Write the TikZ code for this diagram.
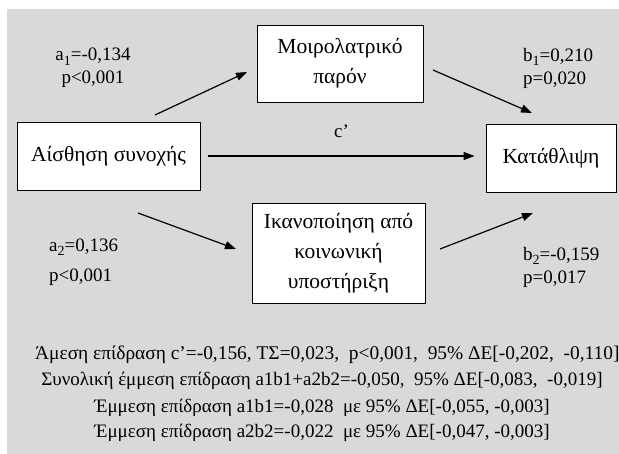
\documentclass[tikz,border=0pt]{standalone}
\usepackage{fontspec}
\setmainfont{Liberation Serif}
\usetikzlibrary{arrows.meta}
\definecolor{bggray}{RGB}{217,217,217}
\tikzstyle{every node}=[font=\fontsize{21.5}{30}\selectfont]
\tikzset{box/.style={draw, fill=white, line width=0.9pt, align=center, inner sep=0pt},
	effect/.style={-{Triangle[length=11pt,width=8pt]}, line width=1.2pt},
	coef/.style={align=left, inner sep=0pt, font=\fontsize{19}{23}\selectfont},
	summary/.style={inner sep=0pt, font=\fontsize{19}{22}\selectfont}}
\newcommand{\sub}[1]{\raisebox{-0.5ex}{\fontsize{14}{14}\selectfont #1}}

\begin{document}
\begin{tikzpicture}[x=1pt,y=-1pt]
	\useasboundingbox (0,0) rectangle (619,454);
	\fill[bggray] (7,9) rectangle (619,454);
	
	% boxes
	\node[box, minimum width=183pt, minimum height=68pt] (cohesion) at (108.5,156) {Αίσθηση συνοχής};
	\node[box, minimum width=166pt, minimum height=77pt] (fatalism) at (340,63.5) {Μοιρολατρικό\\παρόν};
	\node[box, minimum width=173pt, minimum height=100pt] (support) at (338.5,253) {Ικανοποίηση από\\κοινωνική\\υποστήριξη};
	\node[box, minimum width=130pt, minimum height=68pt] (depression) at (551,158) {Κατάθλιψη};
	
	% free ends of the paths
	\coordinate (a1s) at (155,115);
	\coordinate (a1e) at (247,72);
	\coordinate (b1s) at (433,70);
	\coordinate (b1e) at (532,113);
	\coordinate (a2s) at (138,213);
	\coordinate (a2e) at (236,249);
	\coordinate (b2s) at (440,249);
	\coordinate (b2e) at (533,213);
	
	% paths
	\draw[effect] (a1s) -- (a1e);
	\draw[effect] (b1s) -- (b1e);
	\draw[effect] (a2s) -- (a2e);
	\draw[effect] (b2s) -- (b2e);
	\draw[effect] ([xshift=8pt]cohesion.east) -- ([xshift=-11pt]depression.west |- cohesion.east) node[midway, above=14pt, font=\fontsize{19}{22}\selectfont] (direct) {c’};
	
	% coefficients
	\node[coef, align=center] (a1) at (93,68) {a\sub{1}=-0,134\\p<0,001};
	\node[coef, anchor=west] (b1) at (523,68) {b\sub{1}=0,210\\p=0,020};
	\node[coef, anchor=west] (a2) at (49,262) {a\sub{2}=0,136\\[7pt]p<0,001};
	\node[coef, anchor=west] (b2) at (523,267) {b\sub{2}=-0,159\\p=0,017};
	
	% summary
	\node[summary, anchor=west, font=\fontsize{19.4}{22}\selectfont] (l1) at (35,355) {Άμεση επίδραση c’=-0,156, ΤΣ=0,023,~ p<0,001,~ 95\% ΔΕ[-0,202,~ -0,110]};
	\node[summary] (l2) at (322,381) {Συνολική έμμεση επίδραση a1b1+a2b2=-0,050,~ 95\% ΔΕ[-0,083,~ -0,019]};
	\node[summary] (l3) at (322,408) {Έμμεση επίδραση a1b1=-0,028~ με 95\% ΔΕ[-0,055, -0,003]};
	\node[summary] (l4) at (322,433) {Έμμεση επίδραση a2b2=-0,022~ με 95\% ΔΕ[-0,047, -0,003]};
\end{tikzpicture}
\end{document}
